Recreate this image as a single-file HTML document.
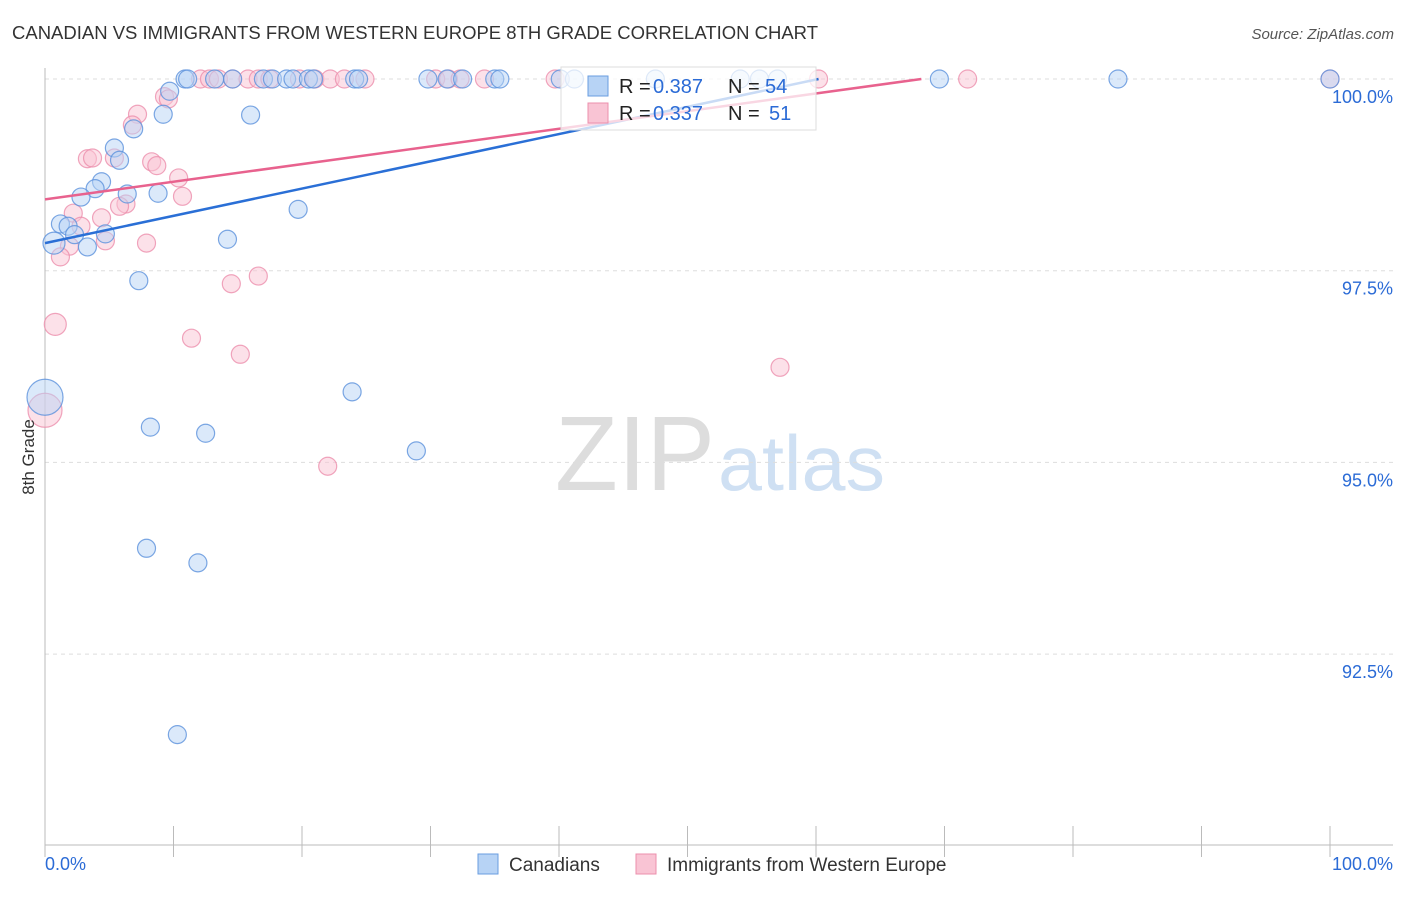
<!DOCTYPE html>
<html><head><meta charset="utf-8"><style>
body{margin:0;background:#fff;font-family:"Liberation Sans",sans-serif;}
svg text{font-family:"Liberation Sans",sans-serif;}
</style></head><body>
<svg id="chart" width="1406" height="892">
<text x="12" y="39" font-size="18" fill="#333" textLength="806" lengthAdjust="spacingAndGlyphs">CANADIAN VS IMMIGRANTS FROM WESTERN EUROPE 8TH GRADE CORRELATION CHART</text>
<text x="1394" y="39" font-size="15" fill="#555" font-style="italic" text-anchor="end">Source: ZipAtlas.com</text>
<text x="555" y="490" font-size="106" fill="#ddd" font-family="Liberation Serif" textLength="160" lengthAdjust="spacingAndGlyphs">ZIP</text>
<text x="718" y="490" font-size="78" fill="#cfe0f3" textLength="167" lengthAdjust="spacingAndGlyphs">atlas</text>
<g id="grid"></g><g id="axes"></g><g id="pts"></g><g id="lines"></g>
<g>
<rect x="561" y="67" width="255" height="63" fill="#fff" fill-opacity="0.75" stroke="#ddd"/>
<rect x="588" y="76" width="20" height="20" fill="#b7d3f5" stroke="#6a9ee0"/>
<rect x="588" y="103" width="20" height="20" fill="#f9c4d4" stroke="#ec8fac"/>
<text y="93" font-size="20" fill="#222"><tspan x="619">R =</tspan><tspan x="653" fill="#2b6bd6">0.387</tspan><tspan x="728">N =</tspan><tspan x="765" fill="#2b6bd6">54</tspan></text>
<text y="120" font-size="20" fill="#222"><tspan x="619">R =</tspan><tspan x="653" fill="#2b6bd6">0.337</tspan><tspan x="728">N =</tspan><tspan x="769" fill="#2b6bd6">51</tspan></text>
</g>
<text x="0" y="0" font-size="17" fill="#333" transform="translate(34,457) rotate(-90)" text-anchor="middle">8th Grade</text>
<text x="45" y="870" font-size="18" fill="#2b6bd6">0.0%</text>
<text x="1393" y="870" font-size="18" fill="#2b6bd6" text-anchor="end">100.0%</text>
<g><rect x="478" y="854" width="20" height="20" fill="#b7d3f5" stroke="#6a9ee0"/><text x="509" y="871" font-size="19" fill="#333">Canadians</text></g>
<g><rect x="636" y="854" width="20" height="20" fill="#f9c4d4" stroke="#ec8fac"/><text x="667" y="871" font-size="19" fill="#333">Immigrants from Western Europe</text></g>
</svg>
<script>
const blueX=[10.9,11.1,13.2,14.6,17.0,17.7,18.8,19.3,20.5,20.9,24.1,24.4,29.8,31.3,32.5,35.0,35.4,40.1,41.2,47.5,54.1,55.6,57.0,69.6,83.5,100,9.7,9.2,16.0,6.9,5.4,5.8,4.4,3.9,2.8,6.4,8.8,19.7,1.2,1.8,2.3,4.7,0.7,3.3,14.2,7.3,0,23.9,8.2,12.5,28.9,7.9,11.9,10.3];
const blueY=[100,100,100,100,100,100,100,100,100,100,100,100,100,100,100,100,100,100,100,100,100,100,100,100,100,100,99.84,99.54,99.53,99.35,99.10,98.94,98.66,98.57,98.46,98.50,98.51,98.30,98.11,98.08,97.97,97.98,97.86,97.81,97.91,97.37,95.85,95.92,95.46,95.38,95.15,93.88,93.69,91.45];
const blueR=[9,9,9,9,9,9,9,9,9,9,9,9,9,9,9,9,9,9,9,9,9,9,9,9,9,9,9,9,9,9,9,9,9,9,9,9,9,9,9,9,9,9,11,9,9,9,18,9,9,9,9,9,9,9];
const pinkX=[12.1,12.8,13.5,14.6,15.8,16.6,17.5,19.8,21.0,22.2,23.3,24.9,30.4,31.4,32.3,34.2,39.7,60.2,71.8,100,9.3,9.6,7.2,6.8,3.3,3.7,5.4,8.3,8.7,10.4,10.7,6.3,5.8,4.4,2.2,2.8,4.7,7.9,1.9,1.2,16.6,14.5,0.8,11.4,15.2,57.2,0,22.0];
const pinkY=[100,100,100,100,100,100,100,100,100,100,100,100,100,100,100,100,100,100,100,100,99.77,99.74,99.54,99.40,98.96,98.97,98.97,98.92,98.87,98.71,98.47,98.37,98.34,98.19,98.25,98.08,97.89,97.86,97.82,97.68,97.43,97.33,96.80,96.62,96.41,96.24,95.68,94.95];
const pinkR=[9,9,9,9,9,9,9,9,9,9,9,9,9,9,9,9,9,9,9,9,9,9,9,9,9,9,9,9,9,9,9,9,9,9,9,9,9,9,9,9,9,9,11,9,9,9,17,9];
const yTicks=[100,97.5,95,92.5];
const yTickLabels=["100.0%","97.5%","95.0%","92.5%"];
const blueLine=[0,97.86,60.2,100];
const pinkLine=[0,98.43,68.2,100];
const NS="http://www.w3.org/2000/svg";
const sx=v=>45+v*12.85, sy=v=>79+(100-v)*76.68;
function mk(p,t,a){const e=document.createElementNS(NS,t);for(const k in a)e.setAttribute(k,a[k]);p.appendChild(e);return e;}
const grid=document.getElementById('grid'),axes=document.getElementById('axes'),pts=document.getElementById('pts'),lines=document.getElementById('lines');
yTicks.forEach((t,i)=>{
 const l=mk(grid,'line',{x1:45,x2:1393,y1:sy(t),y2:sy(t),stroke:'#ddd','stroke-dasharray':'4,4'});
 
 
 const tx=mk(grid,'text',{x:1393,y:sy(t)+24,'font-size':18,fill:'#2b6bd6','text-anchor':'end'});tx.textContent=yTickLabels[i];
 
 
});
const ya=mk(axes,'line',{x1:45,x2:45,y1:68,y2:845,stroke:'#bbb'});


const xa=mk(axes,'line',{x1:45,x2:1393,y1:845,y2:845,stroke:'#bbb'});


for(let i=0;i<=10;i++){const t=mk(axes,'line',{x1:sx(i*10),x2:sx(i*10),y1:826,y2:857,stroke:'#bbb'});
 
 }
function dots(X,Y,R,fill,stroke,name){X.forEach((x,i)=>{const c=mk(pts,'circle',{cx:sx(x),cy:sy(Y[i]),r:R[i],fill:fill,'fill-opacity':0.5,stroke:stroke,'stroke-opacity':0.8,'stroke-width':1.2});
 
 });}
dots(pinkX,pinkY,pinkR,'#f9c4d4','#ec8fac','point-immigrants');
dots(blueX,blueY,blueR,'#b7d3f5','#5b91dc','point-canadians');
const bl=mk(lines,'line',{x1:sx(blueLine[0]),y1:sy(blueLine[1]),x2:sx(blueLine[2]),y2:sy(blueLine[3]),stroke:'#2a6fd6','stroke-width':2.5});


const pl=mk(lines,'line',{x1:sx(pinkLine[0]),y1:sy(pinkLine[1]),x2:sx(pinkLine[2]),y2:sy(pinkLine[3]),stroke:'#e8628e','stroke-width':2.5});


</script>
</body></html>
